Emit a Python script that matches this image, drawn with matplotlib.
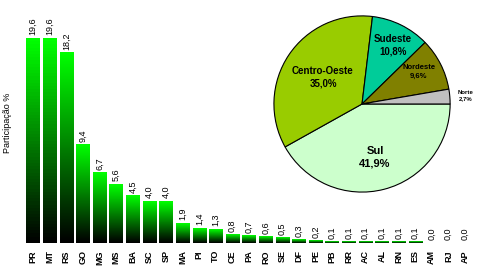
import numpy as np
import matplotlib
matplotlib.use('Agg')
import matplotlib.pyplot as plt
from matplotlib.colors import LinearSegmentedColormap

# dados por estado (participação %)
estados = ['PR', 'MT', 'RS', 'GO', 'MG', 'MS', 'BA', 'SC', 'SP', 'MA', 'PI', 'TO', 'CE', 'PA',
           'RO', 'SE', 'DF', 'PE', 'PB', 'RR', 'AC', 'AL', 'RN', 'ES', 'AM', 'RJ', 'AP']
valores = [19.6, 19.6, 18.2, 9.4, 6.7, 5.6, 4.5, 4.0, 4.0, 1.9, 1.4, 1.3, 0.8, 0.7,
           0.6, 0.5, 0.3, 0.2, 0.1, 0.1, 0.1, 0.1, 0.1, 0.1, 0.0, 0.0, 0.0]

# dados por região
regioes = ['Sul', 'Centro-Oeste', 'Sudeste', 'Nordeste', 'Norte']
partic = [41.9, 35.0, 10.8, 9.6, 2.7]
cores = ['#ccffcc', '#99cc00', '#00cc99', '#808000', '#c0c0c0']

plt.rcParams['font.family'] = ['Liberation Sans', 'DejaVu Sans']

fig = plt.figure(figsize=(4.79, 2.68), dpi=100)
fig.patch.set_facecolor('white')

# gráfico de barras
ax = fig.add_axes([0.0516, 0.093, 0.9365, 0.858])
x = np.arange(len(estados))
larg = 0.8
barras = ax.bar(x, valores, width=larg, color='none', edgecolor='none')
cmap = LinearSegmentedColormap.from_list('verde', ['#000000', '#00ff00'])
grad = np.linspace(0, 1, 64).reshape(-1, 1)
for b, v in zip(barras, valores):
    if v <= 0:
        continue
    ax.imshow(grad, extent=[b.get_x(), b.get_x() + b.get_width(), 0, v],
              origin='lower', aspect='auto', cmap=cmap, zorder=2)
    ax.text(b.get_x() + b.get_width() / 2, v + 0.3, f'{v:.1f}'.replace('.', ','),
            rotation=90, ha='center', va='bottom', fontsize=6.5)
for i, v in enumerate(valores):
    if v <= 0:
        ax.text(i, 0.3, f'{v:.1f}'.replace('.', ','),
                rotation=90, ha='center', va='bottom', fontsize=6.5)

ax.set_xlim(-0.5, len(estados) - 0.5)
ax.set_ylim(0, 22)
ax.set_xticks(x)
ax.set_xticklabels(estados, rotation=90, fontsize=6.5, fontweight='bold')
ax.tick_params(axis='x', length=0, pad=5)
ax.set_yticks([])
for s in ax.spines.values():
    s.set_visible(False)
fig.text(8 / 479, 1 - 123 / 268, 'Participação %', rotation=90,
         ha='center', va='center', fontsize=6.5)

# gráfico de pizza
ax2 = fig.add_axes([0.570, 0.280, 0.3716, 0.664])
ax2.pie(partic, colors=cores, startangle=0, counterclock=False,
        wedgeprops=dict(edgecolor='black', linewidth=0.8))
ax2.set_xlim(-1.01, 1.01)
ax2.set_ylim(-1.01, 1.01)
ax2.set_aspect('equal')

def rotulo(nome, val, px, py, fs):
    fig.text(px / 479, 1 - py / 268, f'{nome}\n{val:.1f}%'.replace('.', ','),
             ha='center', va='center', fontsize=fs, fontweight='bold', linespacing=1.3)

rotulo(regioes[0], partic[0], 375, 157, 8)
rotulo(regioes[1], partic[1], 323, 77, 7)
rotulo(regioes[2], partic[2], 393, 45, 7)
rotulo(regioes[3], partic[3], 419, 72, 5.5)
rotulo(regioes[4], partic[4], 466, 96, 4.3)

fig.savefig('out.png', dpi=100)
